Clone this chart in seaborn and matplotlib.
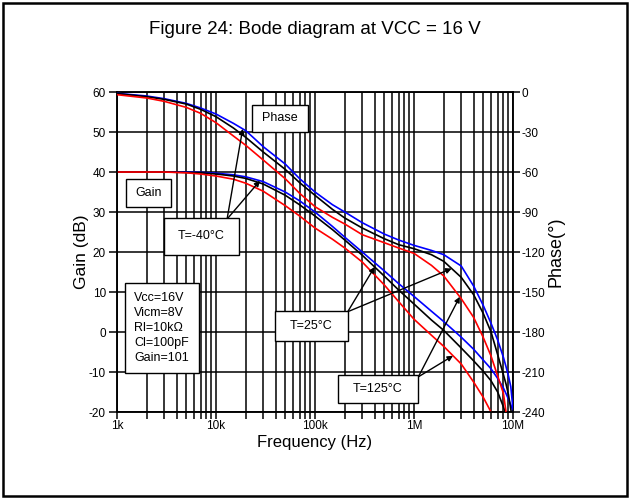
import numpy as np
import pandas as pd
import matplotlib
matplotlib.use("Agg")
import matplotlib.pyplot as plt
import seaborn as sns
from matplotlib.patches import Rectangle
from matplotlib.ticker import FixedLocator, NullFormatter

# Data
freq_hz = [1e3, 2e3, 3e3, 5e3, 7e3, 1e4, 1.5e4, 2e4, 3e4, 5e4, 7e4, 1e5, 1.5e5, 2e5, 3e5,
           5e5, 7e5, 1e6, 1.5e6, 2e6, 3e6, 4e6, 5e6, 6e6, 7e6, 8e6, 8.5e6, 9e6, 9.5e6, 1e7]

gain_m40 = [40, 40, 40, 40, 39.9, 39.7, 39.3, 38.8, 37.6, 35.0, 32.8, 30.0, 26.4, 23.7, 20.0,
            15.3, 12.1, 8.9, 5.2, 2.6, -1.3, -4.3, -7.0, -9.2, -11.6, -14.0, -15.4, -16.8, -18.2, -19.8]
gain_25 = [40, 40, 40, 39.9, 39.8, 39.5, 39.0, 38.4, 37.0, 34.2, 31.8, 29.0, 25.6, 23.0, 19.2,
           14.0, 10.5, 7.0, 3.0, 0.4, -4.0, -7.2, -9.8, -12.2, -15.0, -18.7, -20.8, -22.8, -24.8, -27.0]
gain_125 = [40, 40, 40, 39.8, 39.5, 39.0, 38.2, 37.2, 35.2, 31.6, 29.0, 26.0, 23.2, 21.0, 17.5,
            11.8, 7.6, 3.2, -0.8, -3.6, -8.0, -12.5, -16.3, -20.0, -23.5, -27.0, -28.5, -30.0, -31.5, -33.0]

phase_m40 = [-1, -3, -5, -8.5, -12, -16.5, -23.5, -29, -41, -54, -65, -75, -84.5, -90, -98,
             -106.5, -111, -115, -118.8, -122, -130.5, -145.5, -160, -173.5, -186, -199, -206, -213, -221, -238]
phase_25 = [-1.2, -3.5, -5.5, -9, -13, -18.5, -27, -34, -45, -58, -68, -77.5, -88, -94.5, -102,
            -110, -114.5, -117.5, -122, -127, -139, -152, -166, -180, -197, -212, -219, -227, -238, -248]
phase_125 = [-2, -4.5, -7, -11.5, -16, -23, -33, -40, -51, -65, -76, -86, -94, -99, -107,
             -113, -117, -121, -130, -138, -155, -169, -184, -198, -213, -226, -240, -250, -260, -270]

temps = ["T=-40°C", "T=25°C", "T=125°C"]
colors = {"T=-40°C": "#0000ff", "T=25°C": "black", "T=125°C": "#ff0000"}

x_ticks = [1e3, 1e4, 1e5, 1e6, 1e7]
x_labels = ["1k", "10k", "100k", "1M", "10M"]
gain_ticks = list(range(-20, 61, 10))
phase_ticks = list(range(-240, 1, 30))

conditions = "Vcc=16V\nVicm=8V\nRl=10kΩ\nCl=100pF\nGain=101"

# long-form tables
gain_df = pd.DataFrame({
    "freq": freq_hz * 3,
    "gain": gain_m40 + gain_25 + gain_125,
    "temp": np.repeat(temps, len(freq_hz)),
})
phase_df = pd.DataFrame({
    "freq": freq_hz * 3,
    "phase": phase_m40 + phase_25 + phase_125,
    "temp": np.repeat(temps, len(freq_hz)),
})

sns.set_theme(style="white")
plt.rcParams['font.family'] = ['Liberation Sans', 'DejaVu Sans']
plt.rcParams['axes.unicode_minus'] = False
plt.rcParams['text.color'] = 'black'
plt.rcParams['axes.labelcolor'] = 'black'
plt.rcParams['xtick.color'] = 'black'
plt.rcParams['ytick.color'] = 'black'

fig = plt.figure(figsize=(6.3, 4.99), dpi=100)
ax = fig.add_axes([0.1857, 0.1743, 0.6286, 0.6413])
ax2 = ax.twinx()

ax.set_xscale("log")
sns.lineplot(data=gain_df, x="freq", y="gain", hue="temp", palette=colors, ax=ax,
             legend=False, estimator=None, sort=False, linewidth=1.2, zorder=3)
sns.lineplot(data=phase_df, x="freq", y="phase", hue="temp", palette=colors, ax=ax2,
             legend=False, estimator=None, sort=False, linewidth=1.2, zorder=3)

ax.set_xlim(1e3, 1e7)
ax.set_ylim(-20, 60)
ax2.set_ylim(-240, 0)

ax.xaxis.set_major_locator(FixedLocator(x_ticks))
ax.set_xticklabels(x_labels)
minor = [m * d for d in [1e3, 1e4, 1e5, 1e6] for m in range(2, 10)]
ax.xaxis.set_minor_locator(FixedLocator(minor))
ax.xaxis.set_minor_formatter(NullFormatter())
ax.set_yticks(gain_ticks)
ax2.set_yticks(phase_ticks)

ax.grid(which="both", axis="x", color="black", linewidth=1.1)
ax.grid(which="major", axis="y", color="black", linewidth=1.1)
ax.set_axisbelow(True)

for a in (ax, ax2):
    for s in a.spines.values():
        s.set_color("black")
        s.set_linewidth(1.1)

ax.tick_params(axis="x", which="both", bottom=True, direction="out", length=5, width=1.1,
               color="black", labelcolor="black", labelsize=8.5, pad=1)
ax.tick_params(axis="y", left=True, direction="out", length=6, width=1.1,
               color="black", labelcolor="black", labelsize=8.5, pad=2)
ax2.tick_params(axis="y", right=True, direction="out", length=5, width=1.1,
                color="black", labelcolor="black", labelsize=8.5, pad=1)

ax.set_xlabel("Frequency (Hz)", fontsize=12, labelpad=2, color="black")
ax.set_ylabel("Gain (dB)", fontsize=12.5, labelpad=0, color="black")
ax2.set_ylabel("Phase(°)", fontsize=13, labelpad=2, color="black")

fig.text(0.5, 1 - 30 / 499, "Figure 24: Bode diagram at VCC = 16 V",
         ha="center", va="center", fontsize=13.5, color="black")

# label boxes (axes fraction: x0, y0, x1, y1)
boxes = [
    ("Phase", 0.340, 0.876, 0.483, 0.959),
    ("Gain", 0.023, 0.642, 0.136, 0.727),
    ("T=-40°C", 0.119, 0.491, 0.308, 0.606),
    ("T=25°C", 0.399, 0.222, 0.583, 0.316),
    ("T=125°C", 0.558, 0.028, 0.760, 0.116),
]
for txt, x0, y0, x1, y1 in boxes:
    ax2.add_patch(Rectangle((x0, y0), x1 - x0, y1 - y0, transform=ax2.transAxes,
                            facecolor="white", edgecolor="black", linewidth=1.0, zorder=6))
    ax2.text((x0 + x1) / 2, (y0 + y1) / 2, txt, transform=ax2.transAxes,
             ha="center", va="center", fontsize=9, zorder=7)

ax2.add_patch(Rectangle((0.020, 0.121), 0.188, 0.283, transform=ax2.transAxes,
                        facecolor="white", edgecolor="black", linewidth=1.0, zorder=6))
ax2.text(0.043, 0.2625, conditions, transform=ax2.transAxes, ha="left", va="center",
         fontsize=9, linespacing=1.35, zorder=7)

# arrows from labels to curves
logf = np.log10(freq_hz)
def at(f, vals):
    return np.interp(np.log10(f), logf, vals)

arrows = [
    ((0.278, 0.603), 1.86e4, phase_m40, "phase"),
    ((0.278, 0.603), 2.78e4, gain_m40, "gain"),
    ((0.5826, 0.3134), 4.0e5, gain_25, "gain"),
    ((0.5826, 0.3134), 2.4e6, phase_25, "phase"),
    ((0.761, 0.110), 2.48e6, gain_125, "gain"),
    ((0.761, 0.110), 2.9e6, phase_125, "phase"),
]
for start, f, vals, kind in arrows:
    target = ax if kind == "gain" else ax2
    ax2.annotate("", xy=(f, at(f, vals)), xycoords=target.transData,
                 xytext=start, textcoords=ax2.transAxes,
                 arrowprops=dict(arrowstyle="-|>", color="black", lw=1.0,
                                 mutation_scale=8, shrinkA=0, shrinkB=0),
                 zorder=5)

# outer frame
fig.patches.append(Rectangle((0.005, 0.006), 0.99, 0.988, transform=fig.transFigure,
                             fill=False, edgecolor="black", linewidth=1.8))

fig.savefig("out.png", dpi=100)
